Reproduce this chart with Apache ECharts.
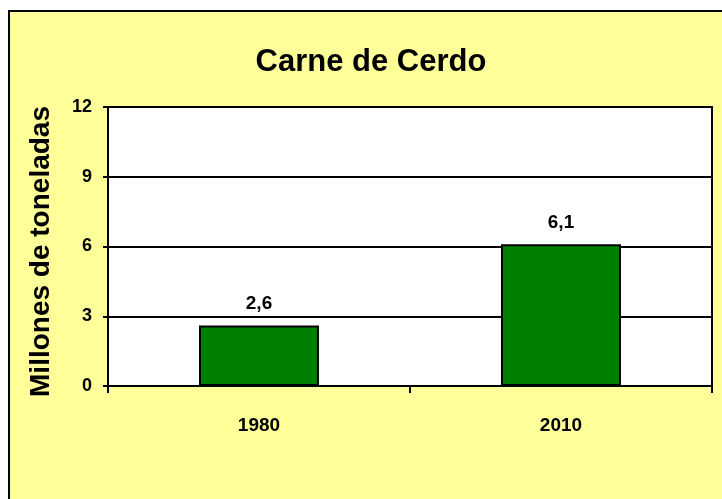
<!DOCTYPE html>
<html>
<head>
<meta charset="utf-8">
<script src="https://cdn.jsdelivr.net/npm/echarts@6/dist/echarts.min.js"></script>
<style>
html,body{margin:0;padding:0;background:#ffffff;}
#chart{width:722px;height:499px;}
</style>
</head>
<body>
<div id="chart"></div>
<script>
const categories = ['1980', '2010'];
const values = [2.6, 6.1];
const valueLabels = ['2,6', '6,1'];
const yTicks = [0, 3, 6, 9, 12];

const FONT = '"Liberation Sans", Arial, sans-serif';
const chart = echarts.init(document.getElementById('chart'), null, {renderer: 'canvas'});
chart.setOption({
  backgroundColor: 'transparent',
  animation: false,
  graphic: [{
    type: 'rect', z: -10, silent: true,
    shape: {x: 9, y: 11, width: 800, height: 600},
    style: {fill: '#FFFF99', stroke: '#000000', lineWidth: 2}
  }],
  title: {
    text: 'Carne de Cerdo',
    left: 366, top: 42, textAlign: 'center',
    textStyle: {fontFamily: FONT, fontWeight: 'bold', fontSize: 31, color: '#000'}
  },
  grid: {
    left: 108, right: 10, top: 107, bottom: 113,
    show: true, backgroundColor: '#ffffff', borderColor: '#000000', borderWidth: 2
  },
  xAxis: {
    type: 'category',
    data: categories,
    axisLine: {show: true, lineStyle: {color: '#000', width: 2}},
    axisTick: {show: true, length: 7, lineStyle: {color: '#000', width: 2}},
    axisLabel: {margin: 30, fontFamily: FONT, fontWeight: 'bold', fontSize: 19, color: '#000'}
  },
  yAxis: {
    type: 'value',
    min: yTicks[0], max: yTicks[yTicks.length - 1], interval: 3,
    name: 'Millones de toneladas',
    nameLocation: 'middle', nameGap: 53,
    nameTextStyle: {fontFamily: FONT, fontWeight: 'bold', fontSize: 28, color: '#000', padding: [0, 10, 0, 0]},
    axisLine: {show: true, lineStyle: {color: '#000', width: 2}},
    axisTick: {show: true, length: 5, lineStyle: {color: '#000', width: 2}},
    splitLine: {show: true, lineStyle: {color: '#000', width: 2}},
    axisLabel: {margin: 16, fontFamily: FONT, fontWeight: 'bold', fontSize: 18, color: '#000'}
  },
  series: [{
    type: 'bar',
    data: values,
    barWidth: 120,
    itemStyle: {color: '#008000', borderColor: '#000000', borderWidth: 2},
    label: {
      show: true, position: 'top', distance: 12,
      fontFamily: FONT, fontWeight: 'bold', fontSize: 19, color: '#000',
      formatter: p => valueLabels[p.dataIndex]
    }
  }]
});
</script>
</body>
</html>
